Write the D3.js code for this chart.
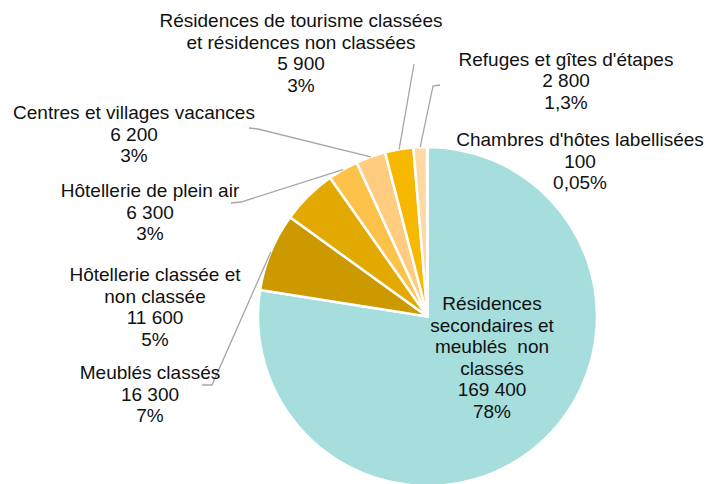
<!DOCTYPE html>
<html>
<head>
<meta charset="utf-8">
<script src="https://cdn.jsdelivr.net/npm/d3@7"></script>
<style>
  html, body { margin: 0; padding: 0; background: #fff; }
  svg { display: block; }
  text { font-family: "Liberation Sans", Arial, sans-serif; font-size: 19px; fill: #111; white-space: pre; }
</style>
</head>
<body>
<svg id="chart" width="722" height="484"></svg>
<script>
// ---- Data ----
const categories = [
  "Résidences secondaires et meublés non classés",
  "Meublés classés",
  "Hôtellerie classée et non classée",
  "Hôtellerie de plein air",
  "Centres et villages vacances",
  "Résidences de tourisme classées et résidences non classées",
  "Refuges et gîtes d'étapes",
  "Chambres d'hôtes labellisées"
];
const values = [169400, 16300, 11600, 6300, 6200, 5900, 2800, 100];
const valueLabels = ["169 400", "16 300", "11 600", "6 300", "6 200", "5 900", "2 800", "100"];
const percentLabels = ["78%", "7%", "5%", "3%", "3%", "3%", "1,3%", "0,05%"];
const nameLines = [
  ["Résidences", "secondaires et", "meublés  non", "classés"],
  ["Meublés classés"],
  ["Hôtellerie classée et", "non classée"],
  ["Hôtellerie de plein air"],
  ["Centres et villages vacances"],
  ["Résidences de tourisme classées", "et résidences non classées"],
  ["Refuges et gîtes d'étapes"],
  ["Chambres d'hôtes labellisées"]
];
const colors = ["#A5DEDC", "#CC9900", "#E2A900", "#FDC24A", "#FFCC80", "#F6B800", "#FFD9A3", "#FFE6C4"];

// ---- Layout (label positions, leader-line anchors) ----
const cx = 427.5, cy = 316.5, radius = 169.5;
const lineH = 21.6;
const labelPos = [
  {x: 492, y: 310},
  {x: 150, y: 379},
  {x: 155, y: 281},
  {x: 150, y: 197},
  {x: 134, y: 119},
  {x: 301, y: 27},
  {x: 566, y: 65.5},
  {x: 580, y: 146}
];
const leaderAnchors = {
  1: [[202, 385], [212, 385]],
  3: [[231, 203], [241, 202]],
  4: [[249, 128], [258, 129]],
  5: [[414, 64]],
  6: [[440, 85], [433, 86]]
};

const svg = d3.select("#chart");
svg.append("rect").attr("width", 722).attr("height", 484).attr("fill", "#fff");

const pie = d3.pie().sort(null).value(d => d).startAngle(0).endAngle(2 * Math.PI);
const arcs = pie(values);
const arc = d3.arc().innerRadius(0).outerRadius(radius);
const edge = d3.arc().innerRadius(radius - 1).outerRadius(radius - 1);

const g = svg.append("g").attr("transform", `translate(${cx},${cy})`);
g.selectAll("path.slice")
  .data(arcs)
  .join("path")
  .attr("class", "slice")
  .attr("d", arc)
  .attr("fill", (d, i) => colors[i])
  .attr("stroke", "#fff")
  .attr("stroke-width", 2.5)
  .attr("stroke-linejoin", "round");

// leader lines
const line = d3.line();
Object.keys(leaderAnchors).forEach(k => {
  const i = +k;
  const a = arcs[i];
  const mid = (a.startAngle + a.endAngle) / 2;
  const p = [cx + Math.sin(mid) * radius, cy - Math.cos(mid) * radius];
  const pts = leaderAnchors[k].concat([p]);
  svg.append("path")
    .attr("d", line(pts))
    .attr("fill", "none")
    .attr("stroke", "#A6A6A6")
    .attr("stroke-width", 1.3);
});

// labels
categories.forEach((c, i) => {
  const lines = nameLines[i].concat([valueLabels[i], percentLabels[i]]);
  const t = svg.append("text")
    .attr("text-anchor", "middle");
  lines.forEach((l, j) => {
    t.append("tspan")
      .attr("x", labelPos[i].x)
      .attr("y", labelPos[i].y + j * lineH)
      .text(l);
  });
});
</script>
</body>
</html>
